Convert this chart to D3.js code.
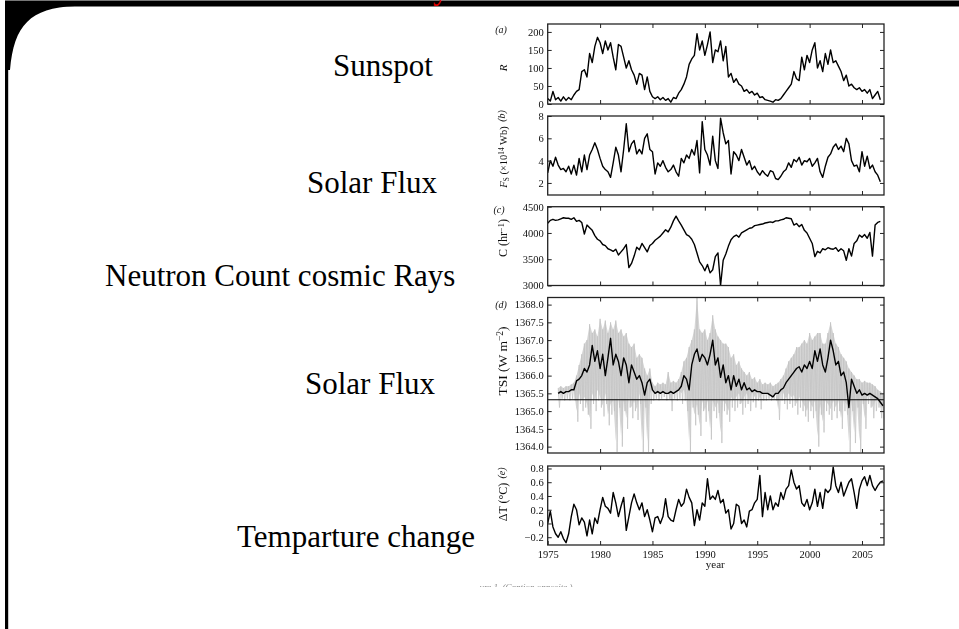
<!DOCTYPE html>
<html>
<head>
<meta charset="utf-8">
<script src="https://cdn.jsdelivr.net/npm/d3@7"></script>
<style>
  html, body { margin: 0; padding: 0; background: #fff; }
  svg { display: block; }
</style>
</head>
<body>
<svg id="slide" width="959" height="629"></svg>
<script>
// ---- Data: quarterly samples starting 1975.0 ----
const startYear = 1975;
const stepYears = 0.25;

// (a) sunspot number R
const sunspotR = [
  15, 8, 35, 12,   18, 8, 20, 10,   18, 12, 25, 35,   40, 90, 95, 75,
  140, 115, 160, 185,   170, 140, 175, 150,   170, 130, 95, 165,   160, 130, 100, 120,
  95, 80, 55, 85,   80, 40, 75, 35,   20, 15, 20, 12,   18, 10, 15, 5,
  18, 15, 30, 40,   55, 75, 110, 125,   135, 195, 150, 175,   135, 165, 200, 115,
  150, 145, 175, 120,   160, 75, 85, 60,   70, 55, 50, 35,   40, 30, 35, 25,
  30, 18, 20, 12,   10, 8, 5, 12,   10, 15, 25, 35,   45, 55, 90, 70,
  65, 130, 95, 135,   115, 150, 170, 100,   120, 90, 140, 110,   150, 115, 120, 105,
  90, 65, 80, 50,   55, 45, 40, 45,   35, 40, 30, 40,   15, 25, 35, 12
];

// (b) open solar flux F_S (x10^14 Wb)
const solarFluxFs = [
  2.9, 4.0, 3.5, 4.3,   3.6, 3.2, 3.3, 3.0,   3.5, 2.8, 3.6, 2.7,   4.2, 3.0, 4.5, 3.2,
  4.5, 5.0, 5.6, 5.0,   4.2, 3.5, 3.2, 3.0,   2.5, 3.8, 5.2, 4.5,   3.0, 5.0, 7.3, 4.8,
  5.5, 5.8, 4.6, 5.0,   4.6, 6.0, 6.4, 5.0,   4.8, 2.8, 3.8, 3.5,   4.0, 3.4, 3.0, 3.2,
  3.6, 3.0, 2.6, 4.2,   3.8, 4.5, 4.2, 5.0,   4.5, 5.8, 2.9, 7.5,   5.0, 4.5, 3.6, 6.2,
  4.0, 3.3, 7.8, 6.5,   5.5, 5.8, 2.8, 4.8,   4.5, 4.0, 5.0, 4.3,   3.6, 4.0, 3.2, 3.5,
  3.0, 2.7, 3.1, 2.8,   2.6, 3.1, 3.0, 2.4,   2.3, 2.6, 3.0, 3.2,   3.8, 3.4, 4.1, 3.9,
  4.3, 3.6, 4.0, 3.9,   4.2, 3.5, 3.8, 4.2,   3.0, 2.5, 3.5, 4.3,   4.6, 5.2, 5.5, 5.0,
  5.3, 4.8, 6.0, 5.5,   4.0, 3.5, 3.6, 3.0,   4.8, 3.5, 4.4, 3.3,   3.6, 3.0, 2.7, 2.1
];

// (c) neutron monitor count rate C (per hour)
const neutronC = [
  4184, 4240, 4260, 4240,   4250, 4270, 4290, 4280,   4280, 4260, 4290, 4220,   4240, 4200, 3980, 4150,
  4100, 4050, 3950, 3880,   3850, 3780, 3760, 3700,   3680, 3650, 3690, 3580,   3640, 3700, 3780, 3340,
  3420, 3560, 3730, 3680,   3800, 3720, 3640, 3760,   3800, 3860, 3900, 3940,   4000, 4060, 4020, 4110,
  4230, 4320, 4230, 4150,   4060, 3970, 3940, 3880,   3780, 3620, 3450, 3380,   3280, 3400, 3240, 3300,
  3550, 3620, 3000, 3480,   3600, 3750, 3870, 3930,   3960, 3920, 4000, 4030,   4060, 4090, 4100, 4140,
  4150, 4160, 4170, 4190,   4200, 4210, 4200, 4230,   4230, 4250, 4260, 4290,   4280, 4270, 4150, 4180,
  4120, 4160, 4050, 4000,   3900, 3800, 3550, 3650,   3620, 3700, 3680, 3720,   3700, 3690, 3720, 3650,
  3700, 3660, 3480, 3700,   3560, 3800, 3850, 3960,   3920, 3970, 3900, 4010,   3560, 4150, 4200, 4220
];

// (d) total solar irradiance, smoothed (black) and daily envelope (grey), W m^-2
const tsiSmoothed = [
  null, null, null, null,
  1365.5, 1365.55, 1365.5, 1365.55,   1365.55, 1365.6, 1365.6, 1365.85,   1365.9, 1366.0, 1366.2, 1366.1,
  1366.3, 1366.85, 1366.4, 1366.7,   1366.2, 1366.6, 1366.0, 1366.5,   1367.05, 1366.3, 1366.6, 1366.4,
  1366.0, 1366.5, 1366.3, 1365.8,   1366.3, 1366.1, 1365.9, 1366.0,   1365.8, 1365.45, 1365.8, 1365.9,
  1365.6, 1365.5, 1365.55, 1365.5,   1365.55, 1365.5, 1365.5, 1365.55,   1365.5, 1365.55, 1365.6, 1365.7,
  1366.0, 1365.9, 1365.6, 1366.3,   1366.6, 1366.75, 1366.4, 1366.6,   1366.5, 1366.3, 1366.6, 1367.0,
  1366.3, 1366.5, 1365.95, 1366.3,   1365.8, 1366.0, 1365.6, 1366.0,   1365.7, 1365.9, 1365.6, 1365.8,
  1365.6, 1365.65, 1365.55, 1365.6,   1365.55, 1365.55, 1365.5, 1365.5,   1365.5, 1365.45, 1365.4, 1365.5,
  1365.5, 1365.6, 1365.65, 1365.8,   1365.9, 1366.0, 1366.1, 1366.2,   1366.25, 1366.1, 1366.3, 1366.2,
  1366.4, 1366.2, 1366.7, 1366.4,   1366.75, 1366.3, 1366.1, 1366.5,   1367.0, 1366.7, 1366.3, 1366.4,
  1366.0, 1366.1, 1365.8, 1365.1,   1365.9, 1365.7, 1365.5, 1365.6,   1365.45, 1365.5, 1365.45, 1365.5,
  1365.45, 1365.4, 1365.35, 1365.25,   1365.15
];
const tsiDailyHigh = [
  null, null, null, null,
  1365.65, 1365.7, 1365.65, 1365.7,   1365.7, 1365.75, 1365.8, 1366.0,   1366.3, 1366.6, 1366.9, 1367.0,
  1367.45, 1367.2, 1367.3, 1367.1,   1367.6, 1367.3, 1367.55, 1367.2,   1367.5, 1367.3, 1367.55, 1367.2,
  1367.3, 1367.1, 1367.2, 1366.9,   1366.8, 1366.9, 1366.5, 1366.6,   1366.5, 1366.2, 1366.0, 1366.2,
  1365.8, 1365.7, 1365.8, 1365.75,   1365.8, 1365.75, 1366.1, 1365.8,   1365.85, 1365.8, 1365.9, 1366.1,
  1366.4, 1366.5, 1366.8, 1367.0,   1367.3, 1368.2, 1367.3, 1367.2,   1367.3, 1367.0, 1367.2, 1367.7,
  1367.3, 1367.1, 1367.0, 1366.9,   1366.9, 1366.8, 1366.5, 1366.6,   1366.3, 1366.4, 1366.2, 1366.1,
  1366.0, 1366.1, 1365.9, 1365.95,   1365.8, 1365.9, 1365.75, 1365.8,   1365.75, 1365.8, 1365.7, 1365.75,
  1365.8, 1365.9, 1366.0, 1366.2,   1366.4, 1366.5, 1366.6, 1366.8,   1366.8, 1366.9, 1367.0, 1366.9,
  1367.2, 1367.0, 1367.1, 1367.2,   1367.2, 1366.9, 1366.9, 1367.2,   1367.5, 1367.2, 1366.9, 1366.8,
  1366.6, 1366.5, 1366.4, 1366.2,   1366.1, 1366.0, 1365.9, 1365.9,   1365.8, 1365.85, 1365.8, 1365.8,
  1365.75, 1365.7, 1365.6, 1365.55,   1365.5
];
const tsiDailyLow = [
  null, null, null, null,
  1365.1, 1365.35, 1365.3, 1365.35,   1365.3, 1365.35, 1365.3, 1364.7,   1365.2, 1365.0, 1365.1, 1364.9,
  1364.5, 1365.2, 1365.0, 1365.3,   1365.1, 1364.85, 1365.2, 1364.6,   1364.9, 1365.0, 1363.85, 1365.1,
  1364.0, 1365.0, 1364.5, 1365.1,   1364.8, 1365.0, 1364.75, 1365.2,   1363.85, 1365.1, 1363.85, 1365.2,
  1365.3, 1365.35, 1365.3, 1365.35,   1365.4, 1365.3, 1365.35, 1365.0,   1365.35, 1365.3, 1365.35, 1365.2,
  1365.3, 1365.0, 1363.85, 1365.1,   1364.6, 1364.9, 1364.3, 1365.0,   1364.7, 1365.0, 1364.2, 1365.0,
  1364.8, 1364.95, 1364.1, 1365.0,   1364.9, 1364.7, 1365.1, 1365.0,   1365.1, 1365.2, 1364.9, 1365.1,
  1365.2, 1365.0, 1365.25, 1365.1,   1365.3, 1365.05, 1365.3, 1365.3,   1365.35, 1365.3, 1365.35, 1365.3,
  1364.75, 1365.3, 1365.2, 1365.05,   1365.2, 1365.1, 1365.15, 1364.9,   1365.1, 1365.0, 1364.85, 1364.7,
  1365.0, 1364.8, 1365.0, 1364.0,   1364.9, 1364.4, 1365.0, 1364.9,   1364.75, 1365.0, 1364.8, 1365.0,
  1364.5, 1365.0, 1364.9, 1363.85,   1365.0, 1364.1, 1365.1, 1363.85,   1365.2, 1364.5, 1365.2, 1365.1,
  1364.8, 1365.0, 1365.1, 1364.8,   1364.8
];
const tsiReference = 1365.32;

// (e) temperature anomaly dT (deg C)
const tempDeltaT = [
  0.0, 0.18, -0.05, -0.15,   -0.2, -0.12, -0.22, -0.28,   -0.15, 0.1, 0.28, 0.2,   -0.02, 0.08, 0.02, -0.18,
  0.05, -0.15, 0.08, 0.0,   0.2, 0.38, 0.25, 0.22,   0.15, 0.45, 0.3, 0.1,   0.25, 0.38, -0.1, 0.1,
  0.3, 0.43, 0.3, 0.2,   0.3, 0.1, 0.2, 0.05,   -0.12, 0.08, 0.1, 0.0,   0.1, 0.36, 0.1, 0.05,
  0.03, 0.2, 0.35, 0.25,   0.3, 0.5, 0.38, 0.3,   -0.03, 0.2, 0.05, 0.3,   0.25, 0.65, 0.35, 0.4,
  0.35, 0.48, 0.3, 0.35,   0.15, 0.2, -0.08, 0.0,   0.28, 0.25, 0.0, 0.05,   -0.05, 0.18, 0.2, 0.3,
  0.35, 0.7, 0.1, 0.45,   0.2, 0.4, 0.2, 0.3,   0.25, 0.45, 0.35, 0.5,   0.55, 0.78, 0.6, 0.5,
  0.55, 0.3, 0.25, 0.35,   0.2, 0.3, 0.5, 0.25,   0.45, 0.22, 0.5, 0.45,   0.5, 0.82, 0.55, 0.45,
  0.6, 0.4, 0.5, 0.6,   0.65, 0.45, 0.22, 0.5,   0.62, 0.68, 0.55, 0.7,   0.55, 0.48, 0.55, 0.6,
  0.62
];

// Axis ticks and labels
const yearTicks = [1975, 1980, 1985, 1990, 1995, 2000, 2005];
const sunspotTicks = [0, 50, 100, 150, 200];
const fluxTicks = [2, 4, 6, 8];
const neutronTicks = [3000, 3500, 4000, 4500];
const tsiTicks = [1364.0, 1364.5, 1365.0, 1365.5, 1366.0, 1366.5, 1367.0, 1367.5, 1368.0];
const tempTicks = [-0.2, 0, 0.2, 0.4, 0.6, 0.8];
const tempTickLabels = ["\u22120.2", "0", "0.2", "0.4", "0.6", "0.8"];

const slideLabels = ["Sunspot", "Solar Flux", "Neutron Count cosmic Rays", "Solar Flux", "Temparture change"];

// ---- Drawing ----
const svg = d3.select("#slide");
const serif = "'Liberation Serif', 'Times New Roman', serif";

// slide frame: dark top band, left rule and rounded inner corner
svg.append("rect").attr("x", 0).attr("y", 0).attr("width", 959).attr("height", 629).attr("fill", "#fff");
svg.append("rect").attr("x", 5).attr("y", 0).attr("width", 954).attr("height", 1.2).attr("fill", "#777");
svg.append("rect").attr("x", 5).attr("y", 1).attr("width", 954).attr("height", 5.5).attr("fill", "#000");
svg.append("rect").attr("x", 5).attr("y", 1).attr("width", 3.2).attr("height", 628).attr("fill", "#000");
svg.append("path")
  .attr("d", "M7,6 L75,6 C30,8 14,25 10,70 L7,70 Z")
  .attr("fill", "#000");

// slide title descender poking below the top band
svg.append("text")
  .attr("x", 433).attr("y", -1)
  .attr("font-family", serif).attr("font-size", 31)
  .attr("fill", "#e00000")
  .text("y");

// large slide labels to the left of the figure
const labelPos = [
  { x: 333, y: 76 },
  { x: 307, y: 193 },
  { x: 105, y: 286 },
  { x: 305, y: 394 },
  { x: 237, y: 547 }
];
svg.selectAll("text.slide-label")
  .data(slideLabels)
  .join("text")
  .attr("class", "slide-label")
  .attr("x", (d, i) => labelPos[i].x)
  .attr("y", (d, i) => labelPos[i].y)
  .attr("font-family", serif)
  .attr("font-size", 31)
  .attr("fill", "#000")
  .text(d => d);

// ---- Figure (five stacked panels) ----
const defs = svg.append("defs");
defs.append("filter").attr("id", "soft")
  .attr("x", "-5%").attr("y", "-5%").attr("width", "110%").attr("height", "110%")
  .append("feGaussianBlur").attr("stdDeviation", 0.45);
defs.append("clipPath").attr("id", "figClip")
  .append("rect").attr("x", 480).attr("y", 8).attr("width", 470).attr("height", 579);

const fig = svg.append("g").attr("clip-path", "url(#figClip)")
  .append("g").attr("filter", "url(#soft)");

const plotLeft = 547.7, plotRight = 884;
const x = d3.scaleLinear().domain([1975, 2007.1]).range([plotLeft, plotRight]);
const tOf = i => startYear + i * stepYears;

const panels = [
  { id: "a", top: 24, bottom: 104, domain: [0, 222], ticks: sunspotTicks, fmt: d => String(d),
    series: sunspotR, tag: "(a)", tagRot: false, tagPos: [501, 33],
    title: [{ t: "R", italic: true }], titleY: 68, titleSize: 11 },
  { id: "b", top: 116, bottom: 195, domain: [0.92, 8], ticks: fluxTicks, fmt: d => String(d),
    series: solarFluxFs, tag: "(b)", tagRot: true, tagPos: [505, 116],
    title: [{ t: "F", italic: true }, { t: "S", sub: true }, { t: " (\u00d710" }, { t: "14", sup: true }, { t: " Wb)" }],
    titleY: 157, titleSize: 10.5 },
  { id: "c", top: 206.7, bottom: 285.5, domain: [3000, 4500], ticks: neutronTicks, fmt: d => String(d),
    series: neutronC, tag: "(c)", tagRot: false, tagPos: [499, 213],
    title: [{ t: "C (hr" }, { t: "\u22121", sup: true }, { t: ")" }], titleY: 238, titleSize: 12 },
  { id: "d", top: 297.5, bottom: 453, domain: [1363.82, 1368.2], ticks: tsiTicks, fmt: d3.format(".1f"),
    series: tsiSmoothed, tag: "(d)", tagRot: false, tagPos: [501, 308],
    title: [{ t: "TSI (W m" }, { t: "\u22122", sup: true }, { t: ")" }], titleY: 361, titleSize: 13.5 },
  { id: "e", top: 466, bottom: 545, domain: [-0.313, 0.836], ticks: tempTicks,
    fmt: d => tempTickLabels[tempTicks.indexOf(d)],
    series: tempDeltaT, tag: "(e)", tagRot: true, tagPos: [505, 473],
    title: [{ t: "\u0394T (\u00b0C)" }], titleY: 502, titleSize: 12 }
];

panels.forEach(p => {
  const y = d3.scaleLinear().domain(p.domain).range([p.bottom, p.top]);
  const g = fig.append("g").attr("class", "panel-" + p.id);

  const clipId = "clip-" + p.id;
  defs.append("clipPath").attr("id", clipId)
    .append("rect").attr("x", plotLeft).attr("y", p.top)
    .attr("width", plotRight - plotLeft).attr("height", p.bottom - p.top);

  const plot = g.append("g").attr("clip-path", `url(#${clipId})`);

  if (p.id === "d") {
    // dense daily scatter above the smoothed curve
    plot.append("path")
      .attr("d", d3.area()
        .defined((d, i) => d != null && tsiSmoothed[i] != null)
        .x((d, i) => x(tOf(i)))
        .y0((d, i) => y(Math.min(tsiSmoothed[i], tsiDailyLow[i] + 0.3)))
        .y1(d => y(d))(tsiDailyHigh))
      .attr("fill", "#d6d6d6");
    // daily values: zigzag between the high and low envelope
    const pts = [];
    tsiDailyHigh.forEach((h, i) => {
      if (h == null || tsiDailyLow[i] == null) return;
      pts.push([tOf(i), h]);
      pts.push([tOf(i) + stepYears / 2, tsiDailyLow[i]]);
    });
    plot.append("path")
      .attr("d", d3.line().x(d => x(d[0])).y(d => y(d[1]))(pts))
      .attr("fill", "none").attr("stroke", "#c4c4c4").attr("stroke-width", 0.8);
  }

  plot.append("path")
    .attr("d", d3.line()
      .defined(d => d != null)
      .x((d, i) => x(tOf(i)))
      .y(d => y(d))(p.series))
    .attr("fill", "none").attr("stroke", "#000").attr("stroke-width", 1.4)
    .attr("stroke-linejoin", "round");

  if (p.id === "d") {
    g.append("line")
      .attr("x1", plotLeft).attr("x2", plotRight)
      .attr("y1", y(tsiReference)).attr("y2", y(tsiReference))
      .attr("stroke", "#000").attr("stroke-width", 1.2);
  }

  // inward ticks on all four sides
  const xInner = yearTicks.filter(d => d > 1975);
  const showYears = p.id === "e";
  const axB = g.append("g").attr("transform", `translate(0,${p.bottom})`)
    .call(d3.axisBottom(x).tickValues(showYears ? yearTicks : xInner).tickSize(-4).tickSizeOuter(0).tickPadding(4)
      .tickFormat(showYears ? d3.format("d") : () => ""));
  const axT = g.append("g").attr("transform", `translate(0,${p.top})`)
    .call(d3.axisTop(x).tickValues(xInner).tickSize(-4).tickSizeOuter(0).tickFormat(() => ""));
  const axL = g.append("g").attr("transform", `translate(${plotLeft},0)`)
    .call(d3.axisLeft(y).tickValues(p.ticks).tickSize(-4).tickSizeOuter(0).tickPadding(4).tickFormat(p.fmt));
  const axR = g.append("g").attr("transform", `translate(${plotRight},0)`)
    .call(d3.axisRight(y).tickValues(p.ticks).tickSize(-4).tickSizeOuter(0).tickFormat(() => ""));
  [axB, axT, axL, axR].forEach(ax => {
    ax.select(".domain").remove();
    ax.selectAll("line").attr("stroke", "#222").attr("stroke-width", 1);
    ax.selectAll("text").attr("font-family", serif).attr("font-size", 10.5).attr("fill", "#111");
  });
  axB.selectAll("text").attr("dy", "0.85em");

  g.append("rect")
    .attr("x", plotLeft).attr("y", p.top)
    .attr("width", plotRight - plotLeft).attr("height", p.bottom - p.top)
    .attr("fill", "none").attr("stroke", "#222").attr("stroke-width", 1.3);

  // panel tag
  const tag = g.append("text")
    .attr("font-family", serif).attr("font-size", 10).attr("font-style", "italic")
    .attr("fill", "#111").attr("text-anchor", "middle").text(p.tag);
  if (p.tagRot) {
    tag.attr("transform", `translate(${p.tagPos[0]},${p.tagPos[1]}) rotate(-90)`);
  } else {
    tag.attr("x", p.tagPos[0]).attr("y", p.tagPos[1]);
  }

  // rotated axis title
  const title = g.append("text")
    .attr("transform", `translate(507,${p.titleY}) rotate(-90)`)
    .attr("font-family", serif).attr("font-size", p.titleSize).attr("fill", "#111")
    .attr("text-anchor", "middle");
  p.title.forEach(part => {
    const ts = title.append("tspan").text(part.t);
    if (part.italic) ts.attr("font-style", "italic");
    if (part.sub) ts.attr("font-size", p.titleSize * 0.7).attr("baseline-shift", "-25%");
    if (part.sup) ts.attr("font-size", p.titleSize * 0.7).attr("baseline-shift", "40%");
  });
});

// x-axis title under the last panel
fig.append("text")
  .attr("x", x(1991)).attr("y", 568)
  .attr("font-family", serif).attr("font-size", 11).attr("fill", "#111")
  .attr("text-anchor", "middle").text("year");

// figure caption, cropped at the bottom edge of the figure
fig.append("text")
  .attr("x", 467).attr("y", 590)
  .attr("font-family", serif).attr("font-size", 9).attr("font-style", "italic")
  .attr("fill", "#888").text("Figure 1. (Caption opposite.)");
</script>
</body>
</html>
